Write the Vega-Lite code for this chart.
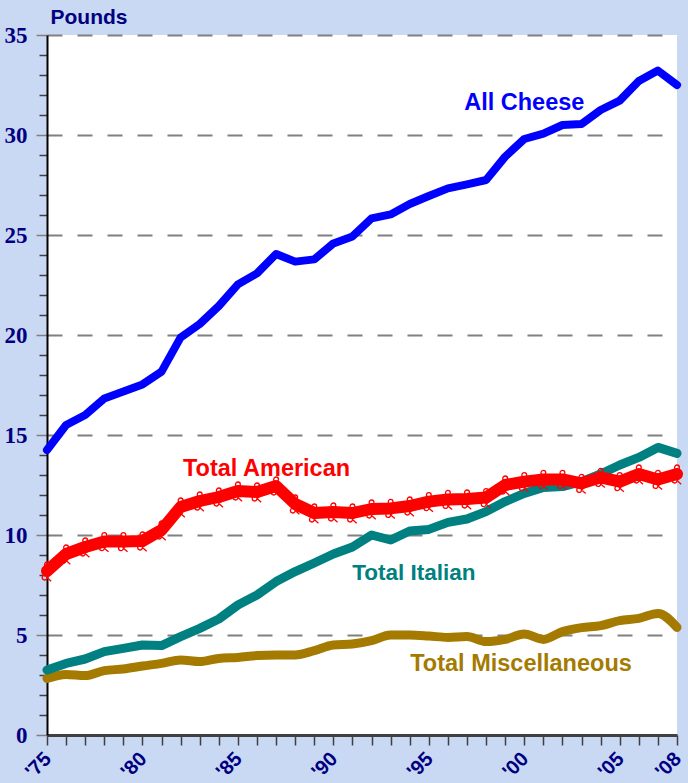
{
  "$schema": "https://vega.github.io/schema/vega-lite/v6.json",
  "width": 630,
  "height": 700,
  "autosize": {"type": "none"},
  "padding": {"left": 47, "top": 35, "right": 11, "bottom": 48},
  "background": "#c9d8f3",
  "config": {
    "view": {"fill": "white", "stroke": null},
    "font": "Arial"
  },
  "datasets": {
    "cheese": [
      {"year": 1975, "cheese": 14.25, "american": 8.2, "italian": 3.25, "misc": 2.83},
      {"year": 1976, "cheese": 15.5, "american": 9.05, "italian": 3.58, "misc": 3.03},
      {"year": 1977, "cheese": 16.0, "american": 9.4, "italian": 3.8, "misc": 2.97},
      {"year": 1978, "cheese": 16.83, "american": 9.67, "italian": 4.17, "misc": 3.22},
      {"year": 1979, "cheese": 17.17, "american": 9.67, "italian": 4.33, "misc": 3.3},
      {"year": 1980, "cheese": 17.53, "american": 9.7, "italian": 4.5, "misc": 3.45},
      {"year": 1981, "cheese": 18.17, "american": 10.25, "italian": 4.47, "misc": 3.58},
      {"year": 1982, "cheese": 19.88, "american": 11.4, "italian": 4.92, "misc": 3.75},
      {"year": 1983, "cheese": 20.55, "american": 11.7, "italian": 5.33, "misc": 3.67},
      {"year": 1984, "cheese": 21.45, "american": 11.9, "italian": 5.8, "misc": 3.83},
      {"year": 1985, "cheese": 22.53, "american": 12.2, "italian": 6.5, "misc": 3.88},
      {"year": 1986, "cheese": 23.08, "american": 12.15, "italian": 7.0, "misc": 3.97},
      {"year": 1987, "cheese": 24.05, "american": 12.45, "italian": 7.67, "misc": 4.0},
      {"year": 1988, "cheese": 23.67, "american": 11.55, "italian": 8.17, "misc": 4.0},
      {"year": 1989, "cheese": 23.78, "american": 11.1, "italian": 8.6, "misc": 4.22},
      {"year": 1990, "cheese": 24.58, "american": 11.15, "italian": 9.05, "misc": 4.5},
      {"year": 1991, "cheese": 24.93, "american": 11.1, "italian": 9.4, "misc": 4.55},
      {"year": 1992, "cheese": 25.83, "american": 11.3, "italian": 10.0, "misc": 4.72},
      {"year": 1993, "cheese": 26.03, "american": 11.33, "italian": 9.75, "misc": 5.0},
      {"year": 1994, "cheese": 26.55, "american": 11.45, "italian": 10.2, "misc": 5.0},
      {"year": 1995, "cheese": 26.95, "american": 11.67, "italian": 10.28, "misc": 4.95},
      {"year": 1996, "cheese": 27.33, "american": 11.78, "italian": 10.63, "misc": 4.88},
      {"year": 1997, "cheese": 27.53, "american": 11.8, "italian": 10.8, "misc": 4.92},
      {"year": 1998, "cheese": 27.75, "american": 11.87, "italian": 11.17, "misc": 4.67},
      {"year": 1999, "cheese": 28.92, "american": 12.5, "italian": 11.67, "misc": 4.78},
      {"year": 2000, "cheese": 29.8, "american": 12.67, "italian": 12.08, "misc": 5.05},
      {"year": 2001, "cheese": 30.07, "american": 12.78, "italian": 12.38, "misc": 4.78},
      {"year": 2002, "cheese": 30.5, "american": 12.78, "italian": 12.42, "misc": 5.17},
      {"year": 2003, "cheese": 30.55, "american": 12.58, "italian": 12.67, "misc": 5.37},
      {"year": 2004, "cheese": 31.25, "american": 12.88, "italian": 13.05, "misc": 5.47},
      {"year": 2005, "cheese": 31.72, "american": 12.67, "italian": 13.5, "misc": 5.72},
      {"year": 2006, "cheese": 32.7, "american": 13.05, "italian": 13.88, "misc": 5.83},
      {"year": 2007, "cheese": 33.22, "american": 12.78, "italian": 14.38, "misc": 6.08},
      {"year": 2008, "cheese": 32.5, "american": 13.05, "italian": 14.08, "misc": 5.38}
    ],
    "labels": [
      {"series": "cheese", "text": "All Cheese", "year": 2000, "pounds": 31.25},
      {"series": "american", "text": "Total American", "year": 1986.5, "pounds": 12.95},
      {"series": "italian", "text": "Total Italian", "year": 1994.22, "pounds": 7.75},
      {"series": "misc", "text": "Total Miscellaneous", "year": 1999.83, "pounds": 3.22}
    ]
  },
  "encoding": {
    "x": {
      "field": "year",
      "type": "quantitative",
      "scale": {"domain": [1975, 2008], "nice": false, "zero": false},
      "axis": {
        "values": [1975,1976,1977,1978,1979,1980,1981,1982,1983,1984,1985,1986,1987,1988,1989,1990,1991,1992,1993,1994,1995,1996,1997,1998,1999,2000,2001,2002,2003,2004,2005,2006,2007,2008],
        "labelExpr": "indexof([1975,1980,1985,1990,1995,2000,2005,2008], datum.value) >= 0 ? \"'\" + substring(toString(datum.value), 2) : ''",
        "title": null,
        "grid": false,
        "domainColor": "#404040",
        "domainWidth": 3,
        "tickColor": "#404040",
        "tickWidth": 1.5,
        "tickSize": 10,
        "labelAngle": -45,
        "labelAlign": "center",
        "labelBaseline": "middle",
        "labelPadding": 20,
        "labelOffset": -9,
        "labelFont": "Arial",
        "labelFontWeight": "bold",
        "labelFontSize": 20,
        "labelColor": "#000080",
        "labelOverlap": false,
        "labelFlush": false,
        "labelBound": false
      }
    },
    "y": {
      "field": "pounds",
      "type": "quantitative",
      "scale": {"domain": [0, 35], "nice": false},
      "axis": {
        "values": [0,1,2,3,4,5,6,7,8,9,10,11,12,13,14,15,16,17,18,19,20,21,22,23,24,25,26,27,28,29,30,31,32,33,34,35],
        "labelExpr": "datum.value % 5 == 0 ? datum.label : ''",
        "title": "Pounds",
        "titleAngle": 0,
        "titleAlign": "left",
        "titleBaseline": "middle",
        "titleX": 3,
        "titleY": -18,
        "titleFont": "Arial",
        "titleFontSize": 21,
        "titleFontWeight": "bold",
        "titleColor": "#000080",
        "grid": true,
        "gridColor": "#808080",
        "gridDash": [15, 15],
        "gridWidth": 2,
        "gridOpacity": {"condition": {"test": "datum.value % 5 == 0", "value": 1}, "value": 0},
        "domainColor": "#000000",
        "domainWidth": 2,
        "tickColor": {"condition": {"test": "datum.value % 5 == 0", "value": "#808080"}, "value": "#404040"},
        "tickSize": {"condition": {"test": "datum.value % 5 == 0", "value": 11}, "value": 8},
        "tickWidth": 1.5,
        "labelFont": "Times New Roman",
        "labelFontWeight": "bold",
        "labelFontSize": 23,
        "labelColor": "#000080",
        "labelPadding": 9,
        "labelOverlap": false,
        "labelBound": false
      }
    },
    "color": {
      "field": "series",
      "type": "nominal",
      "scale": {"domain": ["cheese", "american", "italian", "misc"], "range": ["#0000ff", "#ff0000", "#008080", "#a47b00"]},
      "legend": null
    }
  },
  "layer": [
    {
      "data": {"name": "cheese"},
      "transform": [{"fold": ["misc"], "as": ["series", "pounds"]}],
      "mark": {"type": "line", "strokeWidth": 9, "strokeCap": "round", "strokeJoin": "round", "interpolate": "monotone"}
    },
    {
      "data": {"name": "cheese"},
      "transform": [{"fold": ["italian"], "as": ["series", "pounds"]}],
      "mark": {"type": "line", "strokeWidth": 9, "strokeCap": "round", "strokeJoin": "round"}
    },
    {
      "data": {"name": "cheese"},
      "transform": [{"fold": ["american"], "as": ["series", "pounds"]}],
      "mark": {"type": "line", "strokeWidth": 12, "strokeCap": "round", "strokeJoin": "round"}
    },
    {
      "data": {"name": "cheese"},
      "transform": [{"fold": ["american"], "as": ["series", "pounds"]}],
      "mark": {
        "type": "point",
        "shape": "M -0.2 -0.55 A 0.2 0.2 0 1 0 0.2 -0.55 A 0.2 0.2 0 1 0 -0.2 -0.55 M -0.4 0.55 A 0.2 0.2 0 1 0 0 0.55 A 0.2 0.2 0 1 0 -0.4 0.55 M 0 0.55 L 0.35 0.85 M 0 0.55 L 0.35 0.25",
        "size": 576,
        "filled": false,
        "strokeWidth": 1.3,
        "opacity": 1
      }
    },
    {
      "data": {"name": "cheese"},
      "transform": [{"fold": ["cheese"], "as": ["series", "pounds"]}],
      "mark": {"type": "line", "strokeWidth": 8, "strokeCap": "round", "strokeJoin": "round"}
    },
    {
      "data": {"name": "labels"},
      "transform": [{"filter": "datum.series != 'italian'"}],
      "mark": {"type": "text", "font": "Arial", "fontSize": 23.5, "fontWeight": "bold", "align": "center", "baseline": "alphabetic"},
      "encoding": {"text": {"field": "text"}}
    },
    {
      "data": {"name": "labels"},
      "transform": [{"filter": "datum.series == 'italian'"}],
      "mark": {"type": "text", "font": "Arial", "fontSize": 22.5, "fontWeight": "bold", "align": "center", "baseline": "alphabetic"},
      "encoding": {"text": {"field": "text"}}
    }
  ]
}
